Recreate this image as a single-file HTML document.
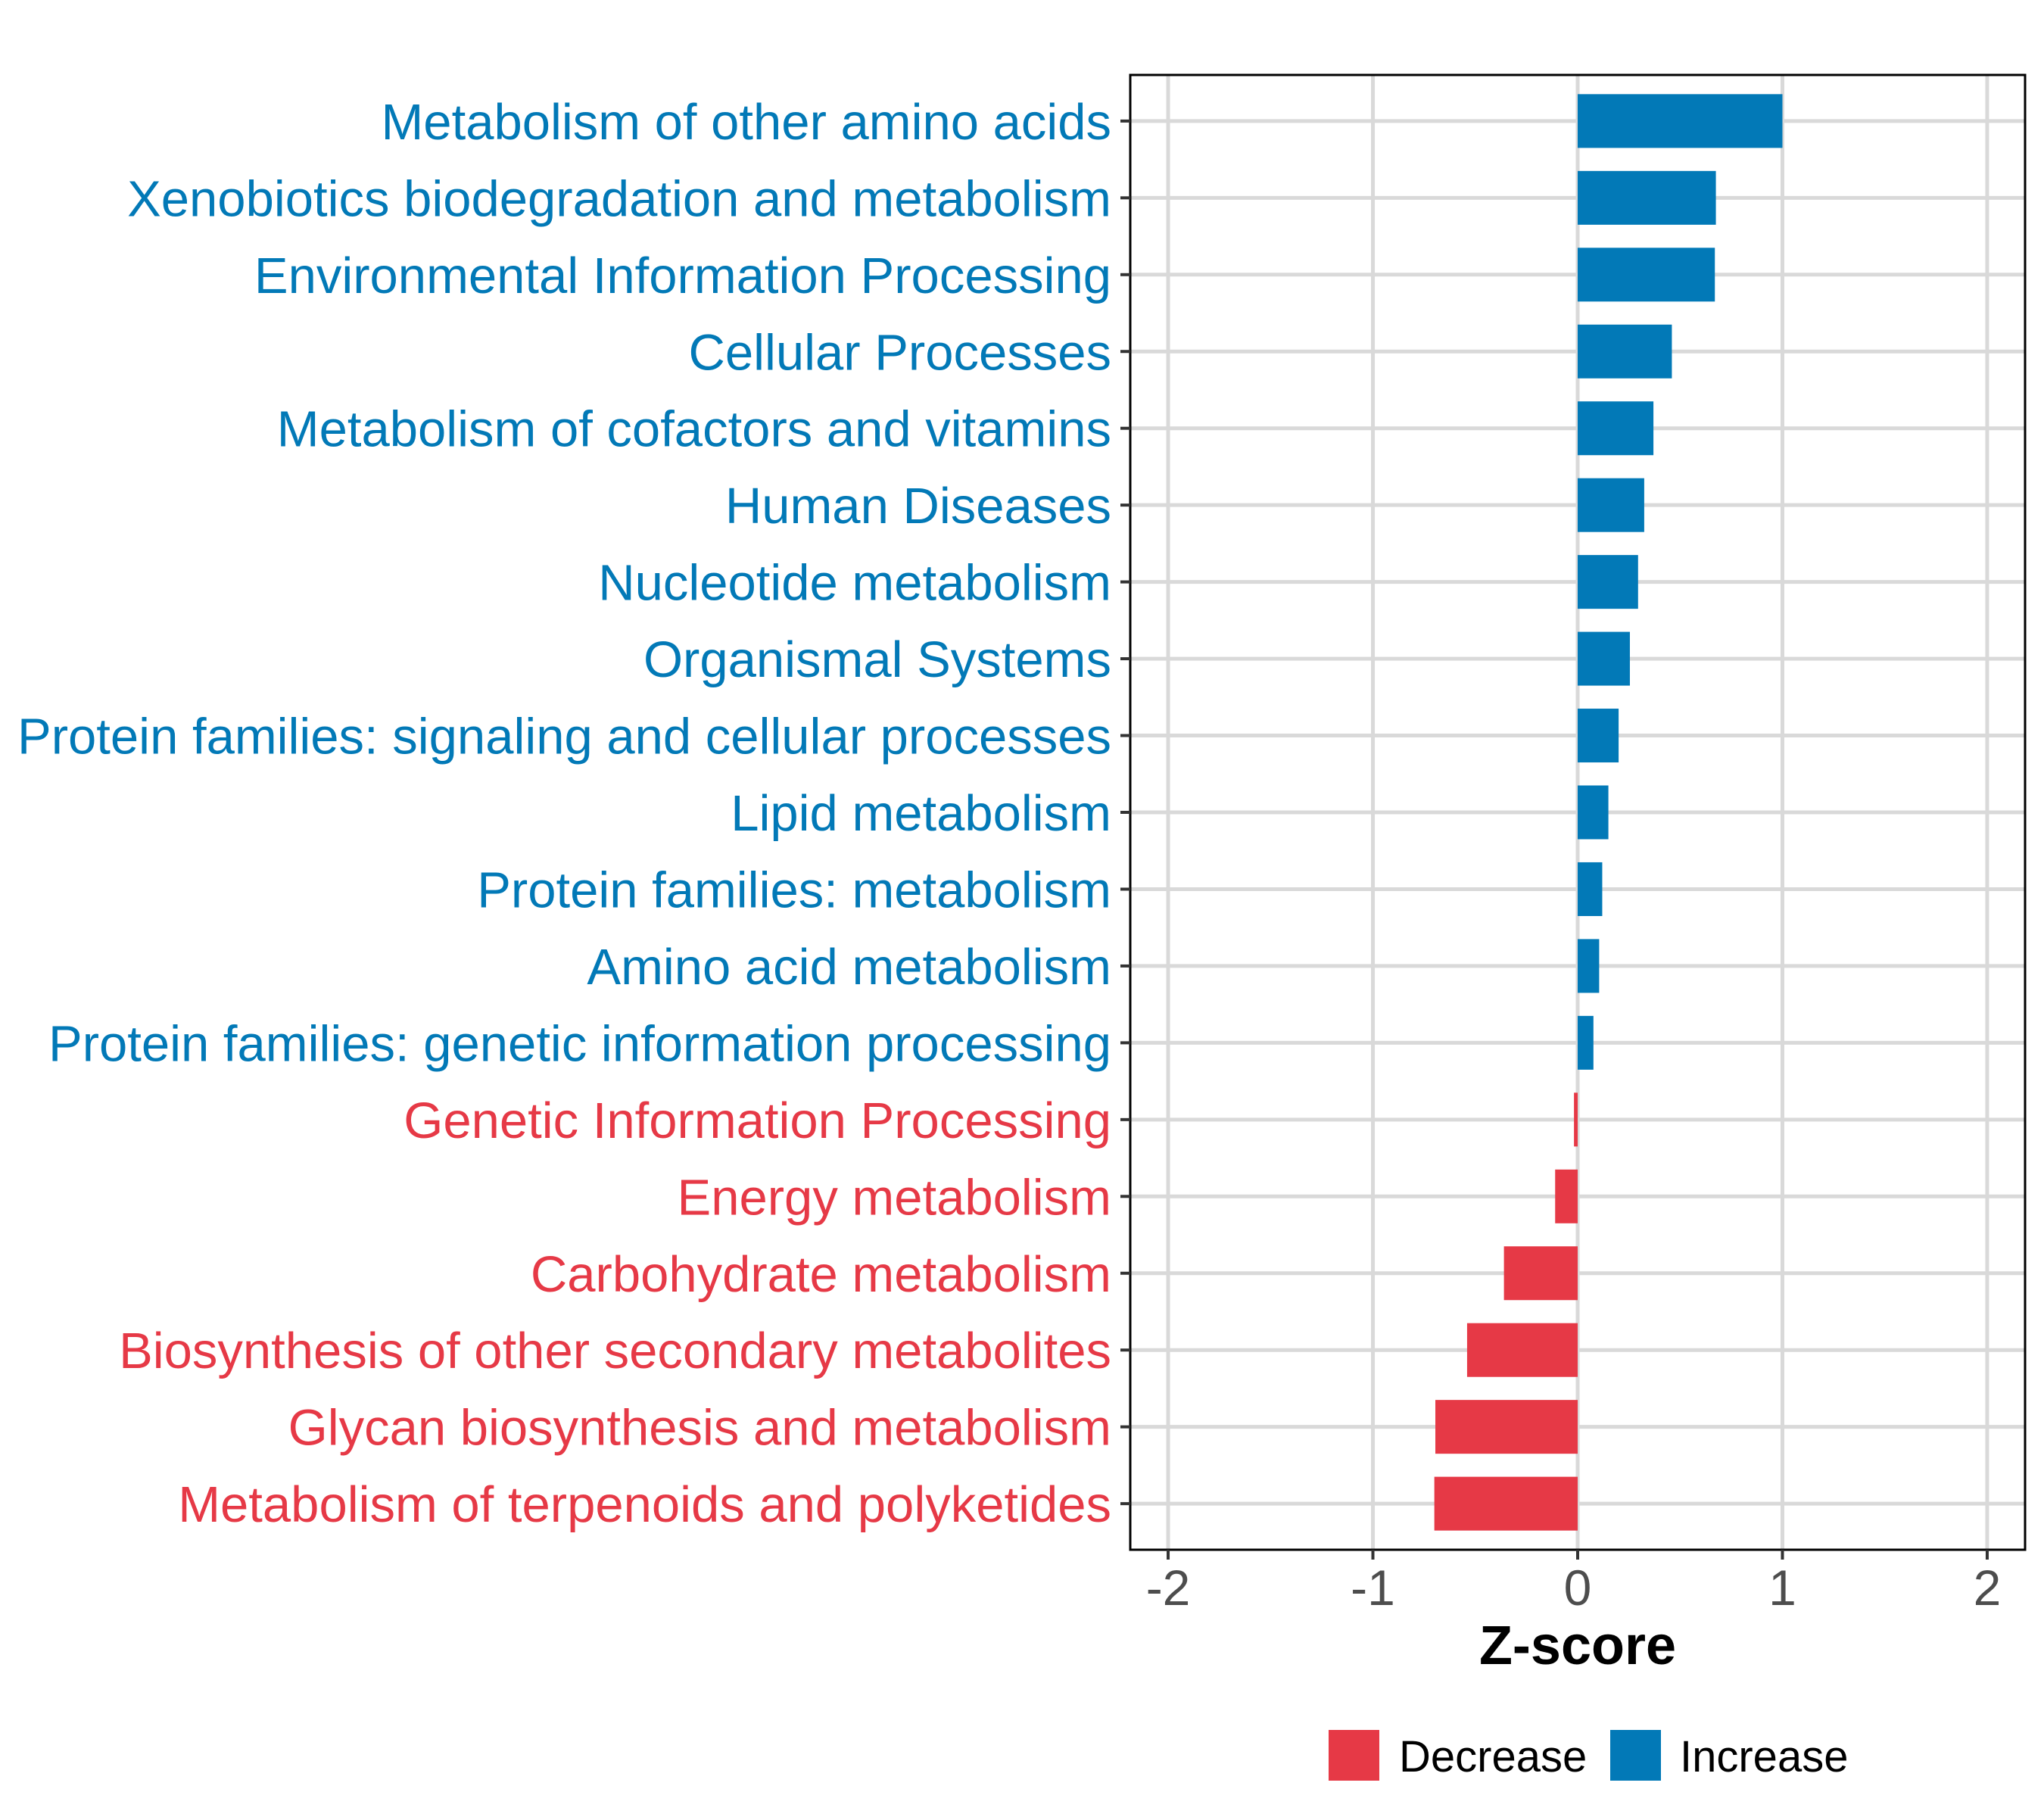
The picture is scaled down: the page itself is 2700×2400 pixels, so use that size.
<!DOCTYPE html>
<html><head><meta charset="utf-8"><style>
html,body{margin:0;padding:0;background:#fff;}
svg{display:block;}
text{font-family:"Liberation Sans",Arial,sans-serif;}
</style></head><body>
<svg id="chart" width="2700" height="2400" viewBox="0 0 2700 2400" xmlns="http://www.w3.org/2000/svg">
<rect x="0" y="0" width="2700" height="2400" fill="#fff"/>
<g id="grid"></g>
<g id="bars"></g>
<rect x="1493" y="99" width="1182" height="1948" fill="none" stroke="#000" stroke-width="3"/>
<g id="yaxis"></g>
<g id="xaxis"></g>
<text x="2084" y="2198" font-size="72" font-weight="bold" text-anchor="middle" fill="#000">Z-score</text>
<g>
<rect x="1755" y="2285" width="67" height="67" fill="#E63946"/>
<text x="1848" y="2340" font-size="58" fill="#000">Decrease</text>
<rect x="2127" y="2285" width="67" height="67" fill="#0279B7"/>
<text x="2219" y="2340" font-size="58" fill="#000">Increase</text>
</g>
</svg>
<script>
const categories = ["Metabolism of other amino acids","Xenobiotics biodegradation and metabolism","Environmental Information Processing","Cellular Processes","Metabolism of cofactors and vitamins","Human Diseases","Nucleotide metabolism","Organismal Systems","Protein families: signaling and cellular processes","Lipid metabolism","Protein families: metabolism","Amino acid metabolism","Protein families: genetic information processing","Genetic Information Processing","Energy metabolism","Carbohydrate metabolism","Biosynthesis of other secondary metabolites","Glycan biosynthesis and metabolism","Metabolism of terpenoids and polyketides"];
const zscores = [1.0,0.675,0.67,0.46,0.37,0.325,0.295,0.255,0.2,0.15,0.12,0.105,0.077,-0.018,-0.11,-0.36,-0.54,-0.695,-0.7];
const xTicks = [-2,-1,0,1,2];
const xTickLabels = ["-2","-1","0","1","2"];

const NS="http://www.w3.org/2000/svg";
const L=1493,R=2675,T=99,B=2047;
const xmin=-2.185,xmax=2.185;
function xs(v){return L+(v-xmin)/(xmax-xmin)*(R-L);}
const step=(B-T)/(categories.length+0.2);
function ys(i){return T+0.6*step+i*step;}
function mk(tag,attrs,parent){const e=document.createElementNS(NS,tag);for(const k in attrs)e.setAttribute(k,attrs[k]);parent.appendChild(e);return e;}
const grid=document.getElementById('grid'),bars=document.getElementById('bars'),ya=document.getElementById('yaxis'),xa=document.getElementById('xaxis');
xTicks.forEach((t,i)=>{
  const g=mk('line',{x1:xs(t),x2:xs(t),y1:T,y2:B,stroke:'#d9d9d9','stroke-width':5},grid);
  
  
  const tk=mk('line',{x1:xs(t),x2:xs(t),y1:B,y2:B+13,stroke:'#333','stroke-width':4},xa);
  
  
  const tl=mk('text',{x:xs(t),y:2120,'font-size':66,'text-anchor':'middle',fill:'#4d4d4d'},xa);
  tl.textContent=xTickLabels[i];
  
  
});
categories.forEach((c,i)=>{
  const y=ys(i);
  const g=mk('line',{x1:L,x2:R,y1:y,y2:y,stroke:'#d9d9d9','stroke-width':5},grid);
  
  
  const v=zscores[i];
  const col=v>=0?'#0279B7':'#E63946';
  const h=step*0.7;
  const b=mk('rect',{x:Math.min(xs(0),xs(v)),y:y-h/2,width:Math.abs(xs(v)-xs(0)),height:h,fill:col},bars);
  
  
  const tk=mk('line',{x1:L-13,x2:L,y1:y,y2:y,stroke:'#333','stroke-width':4},ya);
  
  
  const tl=mk('text',{x:1468,y:y+24,'font-size':67,'text-anchor':'end',fill:col},ya);
  tl.textContent=c;
  
  
});
</script>
</body></html>
